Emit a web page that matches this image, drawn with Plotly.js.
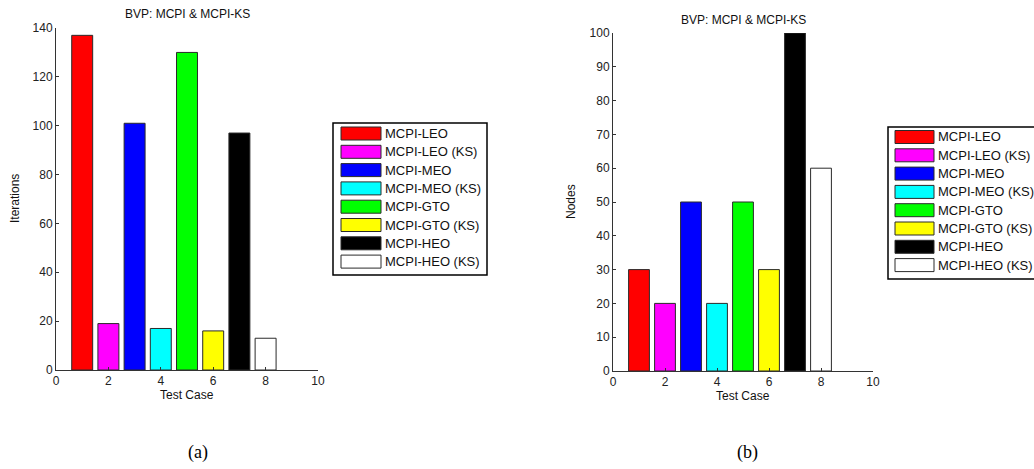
<!DOCTYPE html>
<html>
<head>
<meta charset="utf-8">
<script src="https://cdn.plot.ly/plotly-3.0.1.min.js"></script>
<style>
  html, body { margin: 0; padding: 0; background: #fff; }
  #chart { width: 1034px; height: 469px; }
</style>
</head>
<body>
<div id="chart"></div>
<script>
// ---- data ----
const testCase = [1, 2, 3, 4, 5, 6, 7, 8];
const seriesNames = ['MCPI-LEO', 'MCPI-LEO (KS)', 'MCPI-MEO', 'MCPI-MEO (KS)',
                     'MCPI-GTO', 'MCPI-GTO (KS)', 'MCPI-HEO', 'MCPI-HEO (KS)'];
const iterations = [137, 19, 101, 17, 130, 16, 97, 13];
const nodes = [30, 20, 50, 20, 50, 30, 100, 60];
const chartTitle = 'BVP: MCPI & MCPI-KS';
const xLabel = 'Test Case';
const yLabelA = 'Iterations';
const yLabelB = 'Nodes';
const captions = ['(a)', '(b)'];

// ---- styles ----
const colors = ['#ff0000', '#ff00ff', '#0000ff', '#00ffff',
                '#00ff00', '#ffff00', '#000000', '#ffffff'];
const W = 1034, H = 469;
const px = v => v / W;
const py = v => 1 - v / H;
const FONT = 'Liberation Sans, Arial, sans-serif';
const edge = {color: '#2a2a2a', width: 1};

const traces = [];
seriesNames.forEach((name, i) => {
  traces.push({
    type: 'bar', x: [testCase[i]], y: [iterations[i]], width: 0.8, name: name,
    marker: {color: colors[i], line: edge}, xaxis: 'x', yaxis: 'y',
    showlegend: false, hoverinfo: 'x+y+name'
  });
  traces.push({
    type: 'bar', x: [testCase[i]], y: [nodes[i]], width: 0.8, name: name,
    marker: {color: colors[i], line: edge}, xaxis: 'x2', yaxis: 'y2',
    showlegend: false, hoverinfo: 'x+y+name'
  });
});

const axisCommon = {
  showline: true, linecolor: '#333', linewidth: 1, mirror: false,
  ticks: 'inside', ticklen: 3, tickcolor: '#333', tickwidth: 1,
  showgrid: false, zeroline: false,
  tickfont: {family: FONT, size: 12, color: '#222'}
};

// plot areas (pixels)
const A = {l: 56, r: 318, t: 28, b: 370};
const B = {l: 613, r: 873, t: 33, b: 371};

const layout = {
  width: W, height: H,
  margin: {l: 0, r: 0, t: 0, b: 0},
  paper_bgcolor: '#fff', plot_bgcolor: 'rgba(0,0,0,0)',
  barmode: 'overlay',
  showlegend: false,
  xaxis: Object.assign({}, axisCommon, {domain: [px(A.l), px(A.r)], range: [0, 10], dtick: 2, tick0: 0, anchor: 'y'}),
  yaxis: Object.assign({}, axisCommon, {domain: [py(A.b), py(A.t)], range: [0, 140], dtick: 20, tick0: 0, anchor: 'x'}),
  xaxis2: Object.assign({}, axisCommon, {domain: [px(B.l), px(B.r)], range: [0, 10], dtick: 2, tick0: 0, anchor: 'y2'}),
  yaxis2: Object.assign({}, axisCommon, {domain: [py(B.b), py(B.t)], range: [0, 100], dtick: 10, tick0: 0, anchor: 'x2'}),
  shapes: [],
  annotations: []
};

const ann = (text, x, y, opts) => Object.assign({
  text: text, xref: 'paper', yref: 'paper', x: px(x), y: py(y),
  showarrow: false, xanchor: 'center', yanchor: 'middle',
  font: {family: FONT, size: 12, color: '#111'}
}, opts || {});

// titles and axis labels
layout.annotations.push(ann(chartTitle, (A.l + A.r) / 2, 14));
layout.annotations.push(ann(chartTitle, (B.l + B.r) / 2, 20));
layout.annotations.push(ann(xLabel, (A.l + A.r) / 2, 395));
layout.annotations.push(ann(xLabel, (B.l + B.r) / 2, 396));
layout.annotations.push(ann(yLabelA, 15, (A.t + A.b) / 2, {textangle: -90}));
layout.annotations.push(ann(yLabelB, 571, (B.t + B.b) / 2, {textangle: -90}));
// captions
layout.annotations.push(ann(captions[0], 198, 452, {font: {family: 'Liberation Serif, Times New Roman, serif', size: 18, color: '#000'}}));
layout.annotations.push(ann(captions[1], 747, 452, {font: {family: 'Liberation Serif, Times New Roman, serif', size: 18, color: '#000'}}));

// custom MATLAB-style legends
function addLegend(box, sw, textX, firstY, step) {
  layout.shapes.push({type: 'rect', xref: 'paper', yref: 'paper',
    x0: px(box.l), x1: px(box.r), y0: py(box.b), y1: py(box.t),
    line: {color: '#000', width: 1.5}, fillcolor: '#fff', layer: 'above'});
  seriesNames.forEach((name, i) => {
    const cy = firstY + i * step;
    layout.shapes.push({type: 'rect', xref: 'paper', yref: 'paper',
      x0: px(sw.l), x1: px(sw.r), y0: py(cy + 6.5), y1: py(cy - 6.5),
      line: {color: '#2a2a2a', width: 1}, fillcolor: colors[i], layer: 'above'});
    layout.annotations.push(ann(name, textX, cy, {xanchor: 'left', font: {family: FONT, size: 13, color: '#111'}}));
  });
}
addLegend({l: 333, r: 487, t: 123, b: 275}, {l: 341, r: 381}, 383, 133.5, 18.3);
addLegend({l: 888, r: 1040, t: 127, b: 279}, {l: 895, r: 934}, 936, 137, 18.3);

Plotly.newPlot('chart', traces, layout, {staticPlot: true, displayModeBar: false});
</script>
</body>
</html>
